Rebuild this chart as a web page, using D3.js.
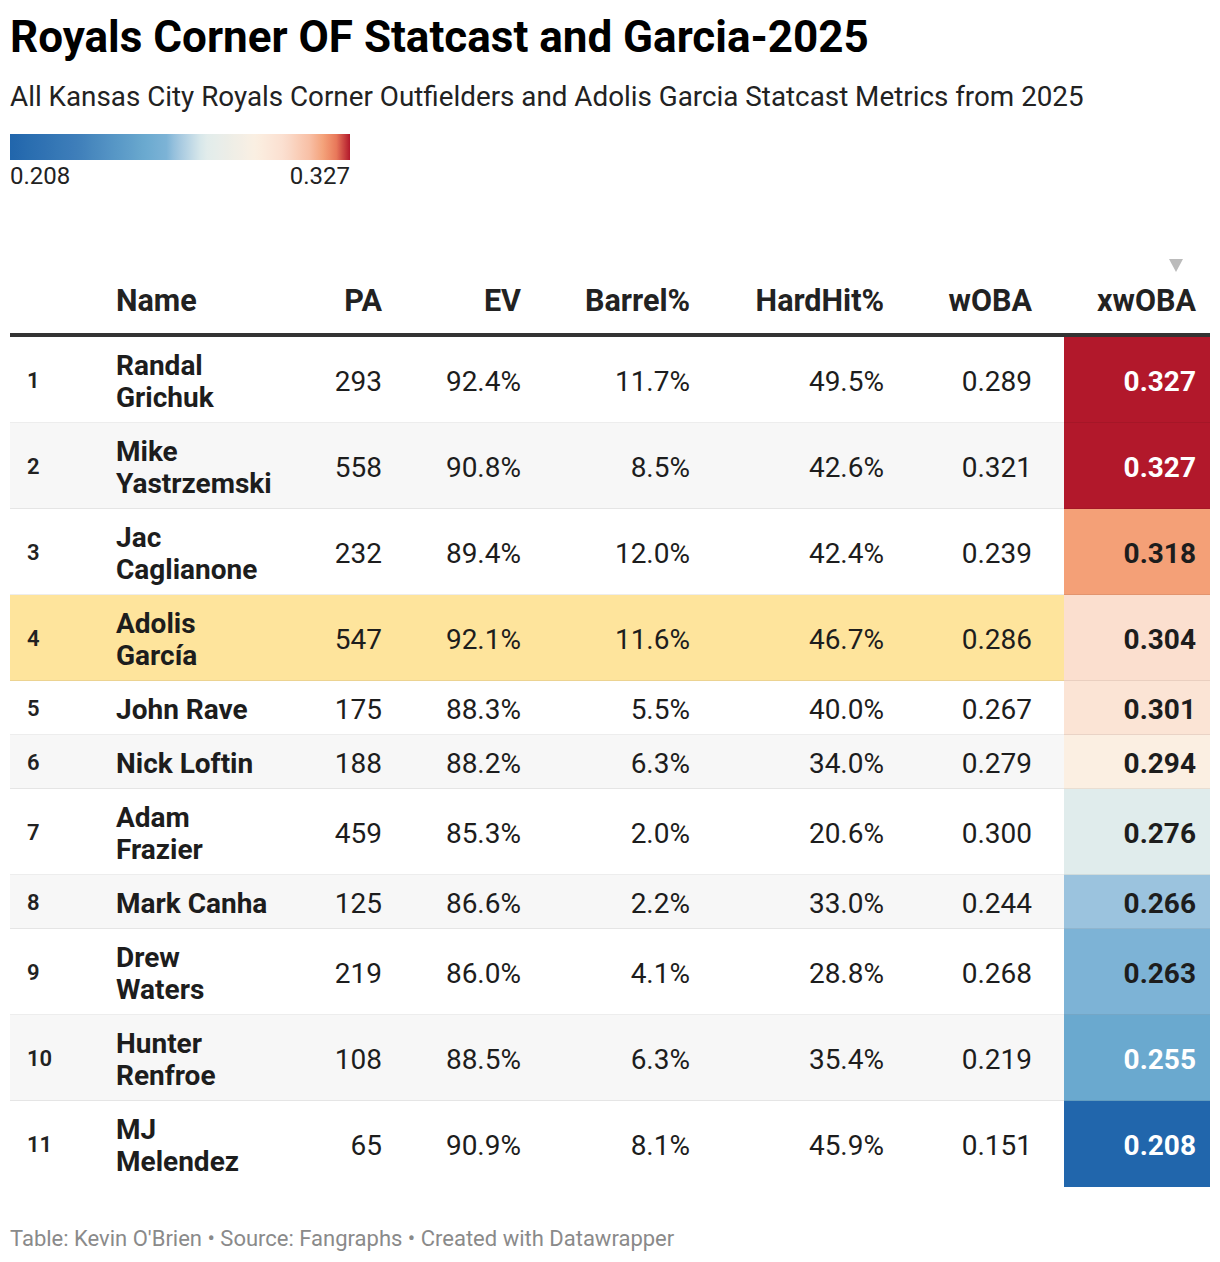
<!DOCTYPE html>
<html>
<head>
<meta charset="utf-8">
<script src="https://cdn.jsdelivr.net/npm/d3@7"></script>
<style>
  html, body { margin: 0; padding: 0; background: #fff; }
  svg { display: block; font-family: Roboto, "Noto Sans", sans-serif; }
</style>
</head>
<body>
<svg id="chart" width="1220" height="1262"></svg>
<script>
// ---- DATA ----
const ranks    = [1, 2, 3, 4, 5, 6, 7, 8, 9, 10, 11];
const names    = ["Randal Grichuk", "Mike Yastrzemski", "Jac Caglianone", "Adolis García", "John Rave", "Nick Loftin", "Adam Frazier", "Mark Canha", "Drew Waters", "Hunter Renfroe", "MJ Melendez"];
const pa       = [293, 558, 232, 547, 175, 188, 459, 125, 219, 108, 65];
const ev       = [92.4, 90.8, 89.4, 92.1, 88.3, 88.2, 85.3, 86.6, 86.0, 88.5, 90.9];
const barrel   = [11.7, 8.5, 12.0, 11.6, 5.5, 6.3, 2.0, 2.2, 4.1, 6.3, 8.1];
const hardhit  = [49.5, 42.6, 42.4, 46.7, 40.0, 34.0, 20.6, 33.0, 28.8, 35.4, 45.9];
const woba     = [0.289, 0.321, 0.239, 0.286, 0.267, 0.279, 0.300, 0.244, 0.268, 0.219, 0.151];
const xwoba    = [0.327, 0.327, 0.318, 0.304, 0.301, 0.294, 0.276, 0.266, 0.263, 0.255, 0.208];
const headers  = ["", "Name", "PA", "EV", "Barrel%", "HardHit%", "wOBA", "xwOBA"];
const highlightName = "Adolis García";
const legendTicks = [0.208, 0.327];

// ---- LAYOUT / STYLE ----
const svg = d3.select("#chart");
const left = 10, right = 1210;

svg.append("text").attr("x", 10).attr("y", 52)
  .attr("font-size", 44).attr("font-weight", 700).attr("fill", "#000")
  .text("Royals Corner OF Statcast and Garcia-2025");
svg.append("text").attr("x", 10).attr("y", 106)
  .attr("font-size", 27.8).attr("fill", "#222")
  .text("All Kansas City Royals Corner Outfielders and Adolis Garcia Statcast Metrics from 2025");

const stopT = [0, 0.2, 0.395, 0.462, 0.487, 0.571, 0.723, 0.807, 0.88, 0.924, 0.96, 1];
const stopC = ["#2166ac", "#3f7fba", "#6aa9cf", "#7db3d6", "#9bc3de", "#e0ecec", "#fbefe2", "#fbdfcf", "#f8c0a6", "#f4a077", "#e8785a", "#b2182b"];
const [vmin, vmax] = d3.extent(xwoba);
const color = d3.scaleLinear()
  .domain(stopT.map(t => vmin + t * (vmax - vmin)))
  .range(stopC)
  .interpolate(d3.interpolateRgb)
  .clamp(true);

// legend
const legX = d3.scaleLinear().domain([vmin, vmax]).range([10, 350]);
const defs = svg.append("defs");
const grad = defs.append("linearGradient").attr("id", "lg").attr("x1", "0%").attr("x2", "100%");
d3.range(0, 1.0001, 0.02).forEach(t => {
  grad.append("stop").attr("offset", (t * 100) + "%").attr("stop-color", color(vmin + t * (vmax - vmin)));
});
svg.append("rect").attr("x", legX(vmin)).attr("y", 134).attr("width", legX(vmax) - legX(vmin)).attr("height", 26)
  .attr("fill", "url(#lg)");
svg.selectAll(".legtick").data(legendTicks).enter().append("text")
  .attr("x", d => legX(d)).attr("y", 184)
  .attr("text-anchor", (d, i) => i === 0 ? "start" : "end")
  .attr("font-size", 24).attr("fill", "#222")
  .text(d => d3.format(".3f")(d));

// columns
const colX = [27, 116, 382, 521, 690, 884, 1032, 1196];
const colAnchor = ["start", "start", "end", "end", "end", "end", "end", "end"];
const xwCellX0 = 1064;
const FS = 28;

// header
svg.selectAll(".hdr").data(headers).enter().append("text")
  .attr("x", (d, i) => colX[i]).attr("y", 311)
  .attr("text-anchor", (d, i) => colAnchor[i])
  .attr("font-size", 30.5).attr("font-weight", 700).attr("fill", "#222")
  .text(d => d);
// sort arrow
svg.append("path").attr("d", "M1169,259 L1183,259 L1176,272 Z").attr("fill", "#bbb");

// wrap names by measured width
const nameMax = 154;
const measure = svg.append("text").attr("font-size", FS).attr("font-weight", 700).attr("visibility", "hidden");
const nameLines = names.map(n => {
  measure.text(n);
  const w = measure.node().getComputedTextLength();
  if (w <= nameMax) return [n];
  const parts = n.split(" ");
  return [parts[0], parts.slice(1).join(" ")];
});
measure.remove();

const rowH = nameLines.map(l => l.length > 1 ? 86 : 54);
const tableTop = 337;
const rowY = [];
rowH.reduce((acc, h, i) => { rowY[i] = acc; return acc + h; }, tableTop);

const rows = ranks.map((r, i) => ({
  i, rank: r, lines: nameLines[i], pa: pa[i], ev: ev[i], barrel: barrel[i],
  hardhit: hardhit[i], woba: woba[i], xwoba: xwoba[i], y: rowY[i], h: rowH[i]
}));

const g = svg.append("g");
const rowG = g.selectAll(".row").data(rows).enter().append("g");

rowG.append("rect")
  .attr("x", left).attr("y", d => d.y).attr("width", xwCellX0 - left).attr("height", d => d.h)
  .attr("fill", d => names[d.i] === highlightName ? "#fee49c" : (d.i % 2 === 1 ? "#f7f7f7" : "#fff"));
rowG.append("rect")
  .attr("x", xwCellX0).attr("y", d => d.y).attr("width", right - xwCellX0).attr("height", d => d.h)
  .attr("fill", d => color(d.xwoba));
rowG.filter(d => d.i < rows.length - 1).append("rect")
  .attr("x", left).attr("y", d => d.y + d.h - 1).attr("width", right - left).attr("height", 2)
  .attr("fill", "rgba(0,0,0,0.07)");

// rank
rowG.append("text").attr("x", colX[0]).attr("y", d => d.y + d.h / 2)
  .attr("dy", "0.35em").attr("font-size", 22).attr("font-weight", 600).attr("fill", "#222")
  .text(d => d.rank);
// name
rowG.each(function(d) {
  const t = d3.select(this).append("text").attr("font-size", FS).attr("font-weight", 700).attr("fill", "#1d1d1d");
  const n = d.lines.length;
  d.lines.forEach((ln, k) => {
    t.append("tspan").attr("x", colX[1])
      .attr("y", d.y + d.h / 2 + (k - (n - 1) / 2) * 32 + 1)
      .attr("dy", "0.35em").text(ln);
  });
});
// numeric values
const numCols = [
  { key: "pa", fmt: d3.format("d"), col: 2 },
  { key: "ev", fmt: v => d3.format(".1f")(v) + "%", col: 3 },
  { key: "barrel", fmt: v => d3.format(".1f")(v) + "%", col: 4 },
  { key: "hardhit", fmt: v => d3.format(".1f")(v) + "%", col: 5 },
  { key: "woba", fmt: d3.format(".3f"), col: 6 }
];
numCols.forEach(c => {
  rowG.append("text").attr("x", colX[c.col]).attr("y", d => d.y + d.h / 2 + 1)
    .attr("dy", "0.35em").attr("text-anchor", "end")
    .attr("font-size", FS).attr("fill", "#1d1d1d")
    .text(d => c.fmt(d[c.key]));
});
rowG.append("text").attr("x", colX[7]).attr("y", d => d.y + d.h / 2 + 1)
  .attr("dy", "0.35em").attr("text-anchor", "end")
  .attr("font-size", FS).attr("font-weight", 700)
  .attr("fill", d => d3.hcl(color(d.xwoba)).l < 68 ? "#fff" : "#1d1d1d")
  .text(d => d3.format(".3f")(d.xwoba));

// header rule
svg.append("rect").attr("x", left).attr("y", 333).attr("width", right - left).attr("height", 4).attr("fill", "#333");

// footer
svg.append("text").attr("x", 10).attr("y", 1246)
  .attr("font-size", 22).attr("fill", "#8a8a8a")
  .text("Table: Kevin O'Brien • Source: Fangraphs • Created with Datawrapper");
</script>
</body>
</html>
